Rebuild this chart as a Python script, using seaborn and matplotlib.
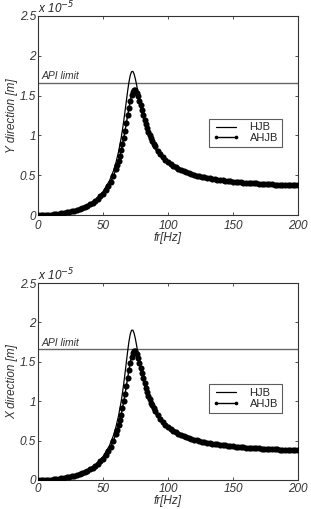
import matplotlib
matplotlib.use("Agg")
import matplotlib.pyplot as plt
import seaborn as sns

sns.set_theme(style="white")
plt.rcParams["font.family"] = ["Liberation Sans", "DejaVu Sans"]
plt.rcParams["font.style"] = "italic"

# amplitudes in units of 1e-5 m
api_limit = 1.66

hjb_f = [0, 5, 10, 15, 20, 25, 30, 35, 40, 45, 50, 55, 58, 60, 62, 64, 65, 66, 67,
         68, 69, 70, 71, 72, 73, 74, 75, 76, 77, 78, 79, 80, 81, 82, 84, 86, 88, 90,
         95, 100, 110, 120, 130, 140, 150, 160, 170, 180, 190, 200]
hjb_y_top = [0.0, 0.002, 0.006, 0.015, 0.027, 0.044, 0.067, 0.099, 0.142, 0.203,
             0.292, 0.429, 0.551, 0.658, 0.794, 0.966, 1.069, 1.182, 1.305, 1.432,
             1.558, 1.669, 1.754, 1.800, 1.804, 1.769, 1.706, 1.626, 1.539, 1.452,
             1.370, 1.293, 1.223, 1.159, 1.051, 0.963, 0.891, 0.831, 0.721, 0.646,
             0.552, 0.496, 0.460, 0.434, 0.416, 0.402, 0.391, 0.382, 0.375, 0.369]
hjb_x_bot = [0.0, 0.002, 0.006, 0.015, 0.027, 0.045, 0.068, 0.101, 0.144, 0.206,
             0.296, 0.435, 0.562, 0.673, 0.814, 0.995, 1.103, 1.224, 1.356, 1.495,
             1.632, 1.756, 1.850, 1.900, 1.902, 1.861, 1.788, 1.698, 1.602, 1.507,
             1.417, 1.334, 1.259, 1.192, 1.077, 0.985, 0.910, 0.848, 0.732, 0.656,
             0.560, 0.504, 0.467, 0.441, 0.422, 0.408, 0.397, 0.388, 0.380, 0.374]

ahjb_f = ([f for f in range(0, 60, 2)] + [f for f in range(60, 91)]
          + [f for f in range(92, 201, 2)])
ahjb_y_top = [0.000, 0.000, 0.001, 0.002, 0.004, 0.006, 0.009, 0.012, 0.016, 0.021,
              0.026, 0.032, 0.038, 0.046, 0.054, 0.064, 0.075, 0.087, 0.101, 0.116,
              0.134, 0.154, 0.177, 0.203, 0.233, 0.268, 0.310, 0.359, 0.417, 0.488,
              # 60..90
              0.574, 0.625, 0.681, 0.742, 0.811, 0.887, 0.970, 1.059, 1.154, 1.251,
              1.346, 1.432, 1.502, 1.550, 1.571, 1.566, 1.538, 1.493, 1.437, 1.376,
              1.314, 1.252, 1.194, 1.140, 1.089, 1.043, 1.000, 0.961, 0.926, 0.893,
              0.863,
              # 92..200
              0.810, 0.766, 0.727, 0.694, 0.665, 0.640, 0.618, 0.598, 0.580, 0.565,
              0.550, 0.537, 0.526, 0.515, 0.505, 0.496, 0.488, 0.480, 0.473, 0.467,
              0.460, 0.455, 0.449, 0.444, 0.440, 0.435, 0.431, 0.427, 0.424, 0.420,
              0.417, 0.414, 0.411, 0.408, 0.405, 0.403, 0.400, 0.398, 0.396, 0.394,
              0.392, 0.390, 0.388, 0.386, 0.384, 0.383, 0.381, 0.380, 0.378, 0.377,
              0.376, 0.374, 0.373, 0.372, 0.371]
ahjb_x_bot = [0.000, 0.000, 0.001, 0.002, 0.004, 0.006, 0.009, 0.012, 0.016, 0.021,
              0.026, 0.032, 0.039, 0.047, 0.055, 0.065, 0.076, 0.088, 0.102, 0.118,
              0.136, 0.156, 0.179, 0.206, 0.237, 0.272, 0.314, 0.364, 0.424, 0.498,
              # 60..90
              0.586, 0.638, 0.696, 0.760, 0.831, 0.910, 0.997, 1.091, 1.191, 1.295,
              1.396, 1.489, 1.564, 1.616, 1.637, 1.631, 1.599, 1.549, 1.488, 1.422,
              1.355, 1.289, 1.227, 1.170, 1.117, 1.068, 1.024, 0.983, 0.946, 0.912,
              0.881,
              # 92..200
              0.822, 0.777, 0.738, 0.704, 0.675, 0.650, 0.627, 0.607, 0.589, 0.573,
              0.559, 0.545, 0.534, 0.523, 0.513, 0.504, 0.495, 0.487, 0.480, 0.474,
              0.467, 0.462, 0.456, 0.451, 0.447, 0.442, 0.438, 0.434, 0.430, 0.426,
              0.423, 0.420, 0.417, 0.414, 0.411, 0.409, 0.406, 0.404, 0.402, 0.400,
              0.398, 0.396, 0.394, 0.392, 0.390, 0.389, 0.387, 0.386, 0.384, 0.383,
              0.382, 0.380, 0.379, 0.378, 0.377]

x_ticks = [0, 50, 100, 150, 200]
y_ticks = [0, 0.5, 1, 1.5, 2, 2.5]
y_tick_labels = ["0", "0.5", "1", "1.5", "2", "2.5"]

fig = plt.figure(figsize=(3.11, 5.09), dpi=100)
ax_top = fig.add_axes([0.122, 0.5776, 0.836, 0.391])
ax_bot = fig.add_axes([0.122, 0.057, 0.836, 0.387])

panels = [
    (ax_top, hjb_y_top, ahjb_y_top, "Y direction [m]", 3.5, 0),
    (ax_bot, hjb_x_bot, ahjb_x_bot, "X direction [m]", 2.5, -0.5),
]

for ax, hjb, ahjb, ylab, tpad, xpad in panels:
    ax.axhline(api_limit, color="#666666", lw=1.0, zorder=1)
    sns.lineplot(x=hjb_f, y=hjb, ax=ax, color="black", lw=0.9,
                 label="HJB", zorder=3)
    sns.lineplot(x=ahjb_f, y=ahjb, ax=ax, color="black", lw=1.0,
                 marker="o", markersize=4.4, markeredgewidth=0,
                 label="AHJB", zorder=4)
    ax.text(3, api_limit + 0.045, "API limit", fontsize=7.5, color="#333333",
            style="italic")
    ax.text(0.0, 1.0, r"x 10$^{-5}$", transform=ax.transAxes,
            fontsize=8.5, va="bottom", ha="left", color="#222222")
    ax.set_xlim(0, 200)
    ax.set_ylim(0, 2.5)
    ax.set_xticks(x_ticks)
    ax.set_xticklabels([str(t) for t in x_ticks])
    ax.set_yticks(y_ticks)
    ax.set_yticklabels(y_tick_labels)
    ax.tick_params(direction="in", length=2.5, width=0.6, labelsize=8.5,
                   top=True, right=True, bottom=True, left=True,
                   pad=1.5, colors="#333333")
    ax.tick_params(axis="x", pad=tpad)
    for sp in ax.spines.values():
        sp.set_color("#333333")
        sp.set_linewidth(0.8)
    ax.set_xlabel("fr[Hz]", fontsize=8.5, labelpad=xpad, color="#333333")
    ax.set_ylabel(ylab, fontsize=8.5, labelpad=1, color="#333333")
    leg = ax.legend(loc="lower left", bbox_to_anchor=(0.658, 0.342, 0.28, 0.158),
                    mode="expand", fontsize=8, numpoints=2, frameon=True,
                    fancybox=False, handlelength=2.4, borderaxespad=0,
                    handletextpad=0.9, labelspacing=0.05, borderpad=0.35,
                    markerscale=0.6)
    leg.get_frame().set_edgecolor("#333333")
    leg.get_frame().set_linewidth(0.8)
    for t in leg.get_texts():
        t.set_style("normal")

fig.savefig("out.png", dpi=100)
